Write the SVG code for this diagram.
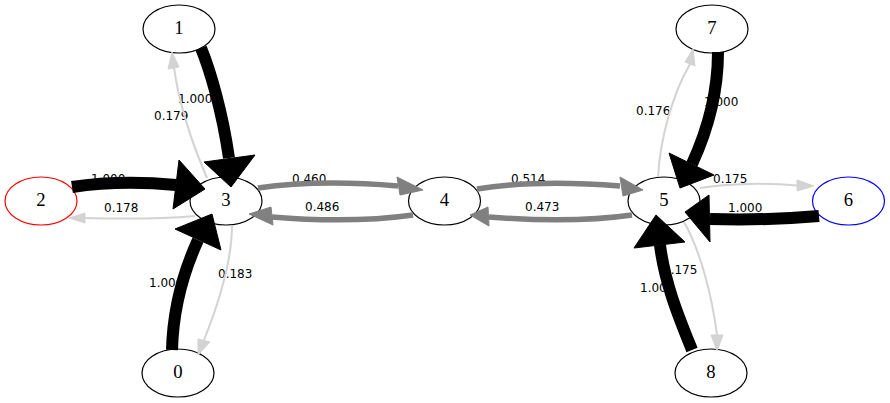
<svg xmlns="http://www.w3.org/2000/svg" width="890" height="403" viewBox="0 0 890 403">
<style>
.node ellipse{fill:#fff;stroke:#000;stroke-width:1.2}
.node text{font-family:"Liberation Serif","Times New Roman",serif;font-size:18.67px;text-anchor:middle;fill:#000}
.lbl text{font-family:"DejaVu Sans","Liberation Sans",sans-serif;font-size:12px;fill:#000}
.e path{fill:none}
.k path{stroke:#000;stroke-width:12}
.k polygon{fill:#000;stroke:#000;stroke-width:1}
.g path{stroke:#808080;stroke-width:5.5}
.g polygon{fill:#808080;stroke:#808080;stroke-width:1}
.l path{stroke:#d3d3d3;stroke-width:2}
.l polygon{fill:#d3d3d3;stroke:#d3d3d3;stroke-width:1}
</style>
<rect width="890" height="403" fill="#fff"/>
<g id="nodes">
<g id="node0" class="node"><ellipse cx="178" cy="373" rx="36" ry="24"/><text x="178" y="378">0</text></g>
<g id="node1" class="node"><ellipse cx="179" cy="29" rx="36" ry="24"/><text x="179" y="34">1</text></g>
<g id="node2" class="node"><ellipse cx="41" cy="201" rx="36" ry="24" style="stroke:#f00"/><text x="41" y="206">2</text></g>
<g id="node3" class="node"><ellipse cx="226" cy="201" rx="36" ry="24"/><text x="226" y="206">3</text></g>
<g id="node4" class="node"><ellipse cx="444.5" cy="201" rx="36" ry="24"/><text x="444.5" y="206">4</text></g>
<g id="node5" class="node"><ellipse cx="664" cy="201" rx="36" ry="24"/><text x="664" y="206">5</text></g>
<g id="node6" class="node"><ellipse cx="848.5" cy="201" rx="36" ry="24" style="stroke:#00f"/><text x="848.5" y="206">6</text></g>
<g id="node7" class="node"><ellipse cx="712" cy="29" rx="36" ry="24"/><text x="712" y="34">7</text></g>
<g id="node8" class="node"><ellipse cx="711" cy="373" rx="36" ry="24"/><text x="711" y="378">8</text></g>
</g>
<g id="edge-labels" class="lbl">
<text x="178" y="103">1.000</text>
<text x="154" y="120">0.179</text>
<text x="91" y="183">1.000</text>
<text x="104" y="212">0.178</text>
<text x="149" y="287">1.000</text>
<text x="218" y="278">0.183</text>
<text x="292" y="183">0.460</text>
<text x="305" y="211">0.486</text>
<text x="511" y="183">0.514</text>
<text x="525" y="211">0.473</text>
<text x="636" y="115">0.176</text>
<text x="704" y="106">1.000</text>
<text x="713" y="183">0.175</text>
<text x="728" y="212">1.000</text>
<text x="663" y="274">0.175</text>
<text x="640" y="292">1.000</text>
</g>
<g id="connectors" class="e">
<g id="e3-1" class="l"><path d="M207,178 C195,150 180,110 174,68"/><polygon points="168,69 179,67 172,52"/></g>
<g id="e3-2" class="l"><path d="M195,216 C160,219 120,219 85,218"/><polygon points="85,213 85,223 69,218"/></g>
<g id="e3-0" class="l"><path d="M232,225 C232,260 220,300 204,340"/><polygon points="198,339 210,342 198,355"/></g>
<g id="e5-7" class="l"><path d="M658,177 C660,140 672,95 690,64"/><polygon points="685,62 695,66 693,49"/></g>
<g id="e5-6" class="l"><path d="M700,188 C730,183 770,183 797,185.5"/><polygon points="797,180 797,191 814,186"/></g>
<g id="e5-8" class="l"><path d="M684,222 C700,250 712,295 717,335"/><polygon points="711,335 723,335 717,351"/></g>
<g id="e3-4" class="g"><path d="M258,188 C300,182 350,182 398,186"/><polygon points="397,177 400,195 423,190"/></g>
<g id="e4-3" class="g"><path d="M413,215 C370,221 320,221 272,217"/><polygon points="271,207 273,225 249,214"/></g>
<g id="e4-5" class="g"><path d="M477,189 C520,182 570,182 620,186"/><polygon points="620,177 623,196 643,190"/></g>
<g id="e5-4" class="g"><path d="M632,215 C590,221 540,221 489,217"/><polygon points="488,207 489,226 470,215"/></g>
<g id="e1-3" class="k"><path d="M201,48 C210,70 222,110 229,158"/><polygon points="204,162 255,155 231,187"/></g>
<g id="e2-3" class="k"><path d="M72,187 C105,182 145,182 176,185"/><polygon points="179,160 173,209 205,189"/></g>
<g id="e0-3" class="k"><path d="M172,350 C173,310 182,275 198,240"/><polygon points="175,229 221,250 212,214"/></g>
<g id="e7-5" class="k"><path d="M718,52 C718,90 710,125 692,164"/><polygon points="669,153 714,175 680,188"/></g>
<g id="e6-5" class="k"><path d="M819,216 C785,219 745,220 710,219"/><polygon points="709,195 710,242 685,212"/></g>
<g id="e8-5" class="k"><path d="M692,350 C680,320 665,285 660,245"/><polygon points="634,248 685,242 656,215"/></g>
</g>
</svg>
